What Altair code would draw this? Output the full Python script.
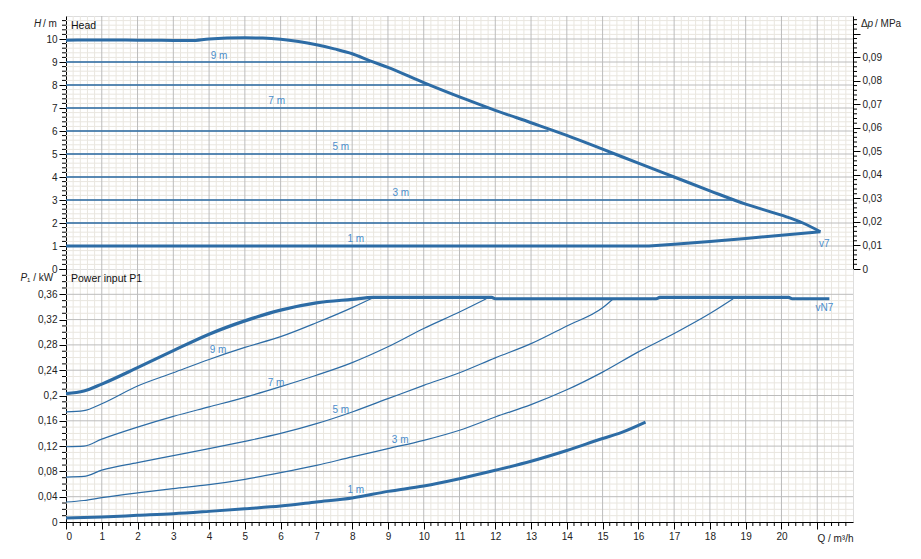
import altair as alt
import pandas as pd

# ---------------- data ----------------
# Head panel: maximum curve (Q in m3/h, H in m)
max_q = [0, 1, 2, 3, 3.5, 4, 5, 5.5, 6, 6.5, 7, 7.5, 8, 8.5, 9, 10, 11, 12, 13, 14, 15, 16, 17, 18, 19, 20, 20.6, 21.09]
max_h = [9.95, 9.96, 9.95, 9.94, 9.93, 10.0, 10.05, 10.04, 9.99, 9.89, 9.75, 9.57, 9.36, 9.05, 8.77, 8.10, 7.48, 6.90, 6.36, 5.81, 5.21, 4.60, 4.0, 3.40, 2.82, 2.34, 2.0, 1.62]
# minimum curve (1 m setting + closing line to v7)
min_q = [0, 16.3, 17, 18, 19, 20, 21.09]
min_h = [1.0, 1.0, 1.08, 1.2, 1.33, 1.47, 1.62]
# constant pressure settings 2..9 m and the flow where they meet the max curve
dpc_levels = [2, 3, 4, 5, 6, 7, 8, 9]
dpc_end_q = [20.62, 18.71, 17.03, 15.34, 13.49, 11.86, 10.13, 8.5]

# Power panel (P1 in kW)
pmax_q = [0, 0.5, 1, 2, 3, 4, 5, 6, 7, 8, 8.6, 11.9, 12.0, 16.5, 16.6, 20.2, 20.3, 21.34]
pmax_p = [0.203, 0.207, 0.218, 0.244, 0.271, 0.297, 0.318, 0.335, 0.3465, 0.352, 0.355, 0.355, 0.353, 0.353, 0.355, 0.355, 0.353, 0.353]
p9_q = [0, 0.5, 1, 2, 3, 4, 5, 6, 7, 8, 8.6]
p9_p = [0.174, 0.176, 0.187, 0.215, 0.236, 0.257, 0.276, 0.293, 0.315, 0.339, 0.355]
p7_q = [0, 0.5, 1, 2, 3, 4, 5, 6, 7, 8, 9, 10, 11, 11.75]
p7_p = [0.119, 0.120, 0.131, 0.150, 0.167, 0.182, 0.197, 0.214, 0.232, 0.252, 0.277, 0.306, 0.332, 0.353]
p5_q = [0, 0.5, 1, 2, 3, 4, 5, 6, 7, 8, 9, 10, 11, 12, 13, 14, 15, 15.3]
p5_p = [0.071, 0.072, 0.082, 0.094, 0.105, 0.116, 0.1275, 0.140, 0.1555, 0.174, 0.195, 0.216, 0.236, 0.2595, 0.282, 0.310, 0.3386, 0.353]
p3_q = [0, 0.5, 1, 2, 3, 4, 5, 6, 7, 8, 9, 10, 11, 12, 13, 14, 15, 16, 17, 18, 18.65]
p3_p = [0.0316, 0.034, 0.0385, 0.046, 0.0527, 0.059, 0.0675, 0.078, 0.0896, 0.103, 0.116, 0.129, 0.145, 0.166, 0.1856, 0.209, 0.237, 0.269, 0.298, 0.3296, 0.353]
p1_q = [0, 1, 2, 3, 4, 5, 6, 7, 8, 9, 10, 11, 12, 13, 14, 15, 15.5, 16.2]
p1_p = [0.0063, 0.008, 0.0105, 0.013, 0.0168, 0.021, 0.0253, 0.0316, 0.038, 0.0484, 0.057, 0.0685, 0.0817, 0.096, 0.113, 0.132, 0.141, 0.158]

# curve labels
head_lab_text = ["9 m", "7 m", "5 m", "3 m", "1 m", "v7"]
head_lab_q = [4.28, 5.89, 7.68, 9.36, 8.1, 21.2]
head_lab_h = [9.28, 7.29, 5.31, 3.31, 1.3, 1.1]
pow_lab_text = ["9 m", "7 m", "5 m", "3 m", "1 m", "vN7"]
pow_lab_q = [4.25, 5.87, 7.68, 9.34, 8.1, 21.2]
pow_lab_p = [0.2715, 0.2204, 0.1777, 0.130, 0.050, 0.339]

# axis ticks
q_major = list(range(0, 22))
h_major = list(range(0, 11))
p_major = [0, 0.04, 0.08, 0.12, 0.16, 0.2, 0.24, 0.28, 0.32, 0.36, 0.4]
dp_major = [0, 0.01, 0.02, 0.03, 0.04, 0.05, 0.06, 0.07, 0.08, 0.09, 0.1]
q_minor = [round(i * 0.2, 1) for i in range(1, 110) if i % 5 != 0]
h_minor = [round(i * 0.2, 1) for i in range(1, 55) if i % 5 != 0]
p_minor = [round(i * 0.01, 2) for i in range(1, 40) if i % 4 != 0]
dp_minor = [round(i * 0.002, 3) for i in range(1, 54) if i % 5 != 0]

# ---------------- style ----------------
W, H1, H2 = 787, 253, 253
BLUE = "#2d6ca5"
LBLUE = "#4b8dcb"
MINOR = "#e9e6df"
MAJOR = "#bcbcbc"
FONT = "Liberation Sans"
TXT = "#222"
DP_MAX = 11 * 0.00978

xs = alt.Scale(domain=[0, 22], nice=False, zero=False)
hs = alt.Scale(domain=[0, 11], nice=False, zero=False)
ps = alt.Scale(domain=[0, 0.4], nice=False, zero=False)
dps = alt.Scale(domain=[0, DP_MAX], nice=False, zero=False)

comma = "replace(datum.label, '.', ',')"
lab = dict(labelFont=FONT, labelFontSize=10, labelColor=TXT)

ax_top_x = alt.Axis(labels=False, ticks=False, domain=True, domainColor="black", grid=False, title=None)
ax_bot_x = alt.Axis(values=q_major, grid=False, tickSize=7, tickColor="black", domainColor="black",
                    labelExpr="datum.value == 21 ? '' : datum.label", labelPadding=2, **lab,
                    title="Q / m³/h", titleAngle=0, titleX=W, titleY=16, titleAlign="right",
                    titleBaseline="middle", titleFont=FONT, titleFontSize=10, titleFontWeight="normal",
                    titleColor=TXT)
ax_h = alt.Axis(values=h_major, grid=False, tickSize=7, tickColor="black", domainColor="black",
                format="~g", labelPadding=2, **lab, title=None)
ax_p = alt.Axis(values=p_major, grid=False, tickSize=7, tickColor="black", domainColor="black",
                format="~g", labelExpr="datum.value > 0.39 ? '' : " + comma,
                labelPadding=2, **lab, title=None)
ax_dp = alt.Axis(orient="right", values=dp_major, grid=False, tickSize=7, tickColor="black",
                 domainColor="black", format="~g", labelExpr="datum.value > 0.095 ? '' : " + comma,
                 labelPadding=2, **lab, title=None)

# ---------------- tables ----------------
df_qminor = pd.DataFrame({"q": q_minor})
df_qmajor = pd.DataFrame({"q": q_major[1:]})
df_hminor = pd.DataFrame({"h": h_minor})
df_hmajor = pd.DataFrame({"h": list(range(1, 11))})
df_pminor = pd.DataFrame({"p": p_minor})
df_pmajor = pd.DataFrame({"p": p_major[1:-1]})
df_dpminor = pd.DataFrame({"dp": dp_minor})

df_max = pd.DataFrame({"q": max_q, "h": max_h})
df_min = pd.DataFrame({"q": min_q, "h": min_h})
rows = []
for lv, e in zip(dpc_levels, dpc_end_q):
    rows += [{"s": lv, "q": 0, "h": lv}, {"s": lv, "q": e, "h": lv}]
df_dpc = pd.DataFrame(rows)
df_hlab = pd.DataFrame({"t": head_lab_text, "q": head_lab_q, "h": head_lab_h})

df_pmax = pd.DataFrame({"q": pmax_q, "p": pmax_p})
df_p1 = pd.DataFrame({"q": p1_q, "p": p1_p})
thin = []
for name, qq, pp in [("9", p9_q, p9_p), ("7", p7_q, p7_p), ("5", p5_q, p5_p), ("3", p3_q, p3_p)]:
    thin += [{"s": name, "q": a, "p": b} for a, b in zip(qq, pp)]
df_pthin = pd.DataFrame(thin)
df_plab = pd.DataFrame({"t": pow_lab_text, "q": pow_lab_q, "p": pow_lab_p})


def label(text, x, y, italic=False, color="#111", size=10):
    return alt.Chart(pd.DataFrame({"t": [text]})).mark_text(
        color=color, font=FONT, fontSize=size, align="left", baseline="middle",
        fontStyle="italic" if italic else "normal").encode(
        x=alt.value(x), y=alt.value(y), text="t:N")


def X(ax):
    return alt.X("q:Q", scale=xs, axis=ax)


# ---------------- head panel ----------------
hx = lambda: X(ax_top_x)
hy = lambda: alt.Y("h:Q", scale=hs, axis=ax_h)

top_layers = [
    alt.Chart(df_qminor).mark_rule(color=MINOR, strokeWidth=1).encode(x=hx()),
    alt.Chart(df_hminor).mark_rule(color=MINOR, strokeWidth=1).encode(y=hy()),
    alt.Chart(df_qmajor).mark_rule(color=MAJOR, strokeWidth=1).encode(x=hx()),
    alt.Chart(df_hmajor).mark_rule(color=MAJOR, strokeWidth=1).encode(y=hy()),
    alt.Chart(df_hminor).mark_rule(color="black", strokeWidth=1).encode(
        y=hy(), x=alt.value(-4), x2=alt.value(0)),
    alt.Chart(df_dpc).mark_line(color=BLUE, strokeWidth=1.3).encode(x=hx(), y=hy(), detail="s:N"),
    alt.Chart(df_min).mark_line(color=BLUE, strokeWidth=3).encode(x=hx(), y=hy()),
    alt.Chart(df_max).mark_line(color=BLUE, strokeWidth=3, interpolate="monotone").encode(x=hx(), y=hy()),
    alt.Chart(df_hlab).mark_text(color=LBLUE, font=FONT, fontSize=10, align="center", baseline="middle").encode(
        x=hx(), y=hy(), text="t:N"),
    label("Head", 5, 10, size=10.5),
    label("H", -32, 8, italic=True, color=TXT),
    label("/ m", -23, 8, color=TXT),
    label("Δ", W + 8, 8, color=TXT),
    label("p", W + 14.5, 8, italic=True, color=TXT),
    label("/ MPa", W + 22, 8, color=TXT),
]
dp_layer = alt.Chart(df_dpminor).mark_rule(color="black", strokeWidth=1).encode(
    y=alt.Y("dp:Q", scale=dps, axis=ax_dp), x=alt.value(W), x2=alt.value(W + 4))

top = alt.layer(alt.layer(*top_layers), dp_layer).resolve_scale(y="independent").properties(
    width=W, height=H1)

# ---------------- power panel ----------------
px = lambda: X(ax_bot_x)
py = lambda: alt.Y("p:Q", scale=ps, axis=ax_p)

bot_layers = [
    alt.Chart(df_qminor).mark_rule(color=MINOR, strokeWidth=1).encode(x=px()),
    alt.Chart(df_pminor).mark_rule(color=MINOR, strokeWidth=1).encode(y=py()),
    alt.Chart(df_qmajor).mark_rule(color=MAJOR, strokeWidth=1).encode(x=px()),
    alt.Chart(df_pmajor).mark_rule(color=MAJOR, strokeWidth=1).encode(y=py()),
    alt.Chart(df_pminor).mark_rule(color="black", strokeWidth=1).encode(
        y=py(), x=alt.value(-4), x2=alt.value(0)),
    alt.Chart(df_qminor).mark_rule(color="black", strokeWidth=1).encode(
        x=px(), y=alt.value(H2), y2=alt.value(H2 + 4)),
    alt.Chart(df_pthin).mark_line(color=BLUE, strokeWidth=1.2, interpolate="monotone").encode(
        x=px(), y=py(), detail="s:N"),
    alt.Chart(df_p1).mark_line(color=BLUE, strokeWidth=3, interpolate="monotone").encode(x=px(), y=py()),
    alt.Chart(df_pmax).mark_line(color=BLUE, strokeWidth=3.2, interpolate="monotone").encode(x=px(), y=py()),
    alt.Chart(df_plab).mark_text(color=LBLUE, font=FONT, fontSize=10, align="center", baseline="middle").encode(
        x=px(), y=py(), text="t:N"),
    label("Power input P1", 5, 10, size=10.5),
    label("P", -45.5, 9, italic=True, color=TXT),
    label("₁ / kW", -39, 9, color=TXT),
]
bot = alt.layer(*bot_layers).properties(width=W, height=H2)

chart = alt.vconcat(top, bot, spacing=0, bounds="flush").properties(
    padding={"left": 12, "top": 7, "right": 5, "bottom": 5}
).configure_view(stroke="black", strokeWidth=1.2).configure(background="white")

chart.save("out.html", embed_options={"renderer": "svg", "actions": False})
